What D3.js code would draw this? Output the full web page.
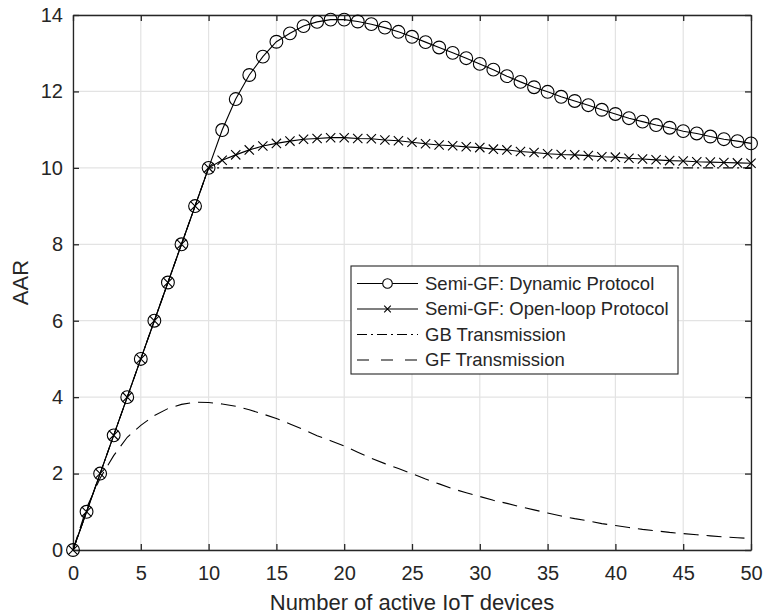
<!DOCTYPE html>
<html>
<head>
    <title>AAR vs active IoT devices</title>
    <script src="https://d3js.org/d3.v7.min.js"></script>
    <style>
        body { margin: 0; background: #fff; }
        text { font-family: "Liberation Sans", Arial, sans-serif; fill: #262626; }
    </style>
</head>
<body>
    <svg width="763" height="615"></svg>

    <script>
        // number of active devices, 0..50
        const devices = d3.range(0, 51);

        const dynamicAAR = [0, 1, 2, 3, 4, 5, 6, 7, 8, 9, 10,
            10.99, 11.80, 12.43, 12.91, 13.30, 13.52, 13.71, 13.82, 13.88, 13.88,
            13.83, 13.76, 13.67, 13.56, 13.43, 13.29, 13.15, 13.01, 12.87, 12.72,
            12.57, 12.40, 12.25, 12.11, 11.99, 11.86, 11.75, 11.64, 11.52, 11.41,
            11.30, 11.21, 11.12, 11.05, 10.96, 10.90, 10.82, 10.75, 10.70, 10.64];

        const openLoopAAR = [0, 1, 2, 3, 4, 5, 6, 7, 8, 9, 10,
            10.20, 10.34, 10.47, 10.57, 10.64, 10.70, 10.75, 10.77, 10.79, 10.79,
            10.77, 10.76, 10.73, 10.71, 10.67, 10.63, 10.60, 10.58, 10.55, 10.53,
            10.49, 10.47, 10.43, 10.40, 10.37, 10.35, 10.34, 10.32, 10.29, 10.28,
            10.25, 10.23, 10.21, 10.19, 10.18, 10.16, 10.15, 10.14, 10.13, 10.12];

        const gbAAR = [0, 1, 2, 3, 4, 5, 6, 7, 8, 9, 10,
            10, 10, 10, 10, 10, 10, 10, 10, 10, 10,
            10, 10, 10, 10, 10, 10, 10, 10, 10, 10,
            10, 10, 10, 10, 10, 10, 10, 10, 10, 10,
            10, 10, 10, 10, 10, 10, 10, 10, 10, 10];

        const gfAAR = [0, 1.10, 1.88, 2.47, 2.95, 3.26, 3.52, 3.70, 3.81, 3.87, 3.86,
            3.82, 3.76, 3.67, 3.56, 3.44, 3.30, 3.15, 2.99, 2.86, 2.72,
            2.56, 2.40, 2.26, 2.13, 2.00, 1.86, 1.73, 1.60, 1.50, 1.40,
            1.30, 1.22, 1.13, 1.05, 0.97, 0.89, 0.82, 0.76, 0.69, 0.64,
            0.59, 0.54, 0.50, 0.46, 0.43, 0.40, 0.37, 0.34, 0.32, 0.30];

        const xTicks = [0, 5, 10, 15, 20, 25, 30, 35, 40, 45, 50];
        const yTicks = [0, 2, 4, 6, 8, 10, 12, 14];

        const seriesNames = ["Semi-GF: Dynamic Protocol", "Semi-GF: Open-loop Protocol",
            "GB Transmission", "GF Transmission"];

        const svg = d3.select("svg");
        const margin = { top: 15, right: 12, bottom: 65, left: 73 };
        const width = +svg.attr("width") - margin.left - margin.right;
        const height = +svg.attr("height") - margin.top - margin.bottom;

        const x = d3.scaleLinear().domain([0, 50]).range([0, width]);
        const y = d3.scaleLinear().domain([0, 14]).range([height, 0]);

        const g = svg.append("g").attr("transform", `translate(${margin.left},${margin.top})`);

        // grid
        g.append("g").selectAll("line").data(xTicks).join("line")
            .attr("x1", d => x(d)).attr("x2", d => x(d))
            .attr("y1", 0).attr("y2", height)
            .attr("stroke", "#e3e3e3").attr("stroke-width", 1.2);
        g.append("g").selectAll("line").data(yTicks).join("line")
            .attr("x1", 0).attr("x2", width)
            .attr("y1", d => y(d)).attr("y2", d => y(d))
            .attr("stroke", "#e3e3e3").attr("stroke-width", 1.2);

        // axes, MATLAB style: ticks inside, box on
        const tickLen = 6;
        g.append("g").attr("transform", `translate(0,${height})`)
            .call(d3.axisBottom(x).tickValues(xTicks).tickSizeInner(-tickLen).tickSizeOuter(0).tickPadding(16));
        g.append("g")
            .call(d3.axisLeft(y).tickValues(yTicks).tickSizeInner(-tickLen).tickSizeOuter(0).tickPadding(10));
        g.append("g")
            .call(d3.axisTop(x).tickValues(xTicks).tickSizeInner(-tickLen).tickSizeOuter(0).tickFormat(""));
        g.append("g").attr("transform", `translate(${width},0)`)
            .call(d3.axisRight(y).tickValues(yTicks).tickSizeInner(-tickLen).tickSizeOuter(0).tickFormat(""));

        g.selectAll(".domain").attr("stroke", "#262626").attr("stroke-width", 1.3);
        g.selectAll(".tick line").attr("stroke", "#262626").attr("stroke-width", 1.3);
        g.selectAll(".tick text").attr("font-size", 20).attr("fill", "#262626")
            .style("font-family", "'Liberation Sans', Arial, sans-serif");

        // axis labels
        svg.append("text")
            .attr("x", margin.left + width / 2).attr("y", 610)
            .attr("text-anchor", "middle").attr("font-size", 22)
            .text("Number of active IoT devices");
        svg.append("text")
            .attr("transform", `translate(28,${margin.top + height / 2}) rotate(-90)`)
            .attr("text-anchor", "middle").attr("font-size", 22)
            .text("AAR");

        const line = vals => d3.line()
            .x((d, i) => x(devices[i]))
            .y(d => y(d))(vals);

        const plot = g.append("g");

        plot.append("path").attr("d", line(gfAAR))
            .attr("fill", "none").attr("stroke", "#000").attr("stroke-width", 1.1)
            .attr("stroke-dasharray", "15,8");
        plot.append("path").attr("d", line(gbAAR))
            .attr("fill", "none").attr("stroke", "#000").attr("stroke-width", 1.1)
            .attr("stroke-dasharray", "10,4,2,4");
        plot.append("path").attr("d", line(openLoopAAR))
            .attr("fill", "none").attr("stroke", "#000").attr("stroke-width", 1.1);
        plot.append("path").attr("d", line(dynamicAAR))
            .attr("fill", "none").attr("stroke", "#000").attr("stroke-width", 1.1);

        const cross = d3.symbol().type(d3.symbolX).size(58);

        plot.append("g").selectAll("path").data(openLoopAAR).join("path")
            .attr("transform", (d, i) => `translate(${x(devices[i])},${y(d)})`)
            .attr("d", cross)
            .attr("fill", "none").attr("stroke", "#000").attr("stroke-width", 1.1);

        plot.append("g").selectAll("circle").data(dynamicAAR).join("circle")
            .attr("cx", (d, i) => x(devices[i])).attr("cy", d => y(d))
            .attr("r", 6.4)
            .attr("fill", "none").attr("stroke", "#000").attr("stroke-width", 1.1);

        // legend
        const lg = svg.append("g").attr("transform", "translate(351,266)");
        lg.append("rect").attr("width", 327).attr("height", 108)
            .attr("fill", "#fff").attr("stroke", "#262626").attr("stroke-width", 1.1);

        const rows = lg.selectAll("g.row").data(seriesNames).join("g")
            .attr("class", "row")
            .attr("transform", (d, i) => `translate(0,${17.5 + i * 25.5})`);

        rows.append("line").attr("x1", 6).attr("x2", 67)
            .attr("stroke", "#000").attr("stroke-width", 1.1)
            .attr("stroke-dasharray", (d, i) => i === 2 ? "10,4,2,4" : i === 3 ? "12,12" : null);
        rows.filter((d, i) => i === 0).append("circle")
            .attr("cx", 36.5).attr("r", 4.8)
            .attr("fill", "#fff").attr("stroke", "#000").attr("stroke-width", 1.1);
        rows.filter((d, i) => i === 1).append("path")
            .attr("transform", "translate(36.5,0)")
            .attr("d", d3.symbol().type(d3.symbolX).size(30))
            .attr("fill", "none").attr("stroke", "#000").attr("stroke-width", 1.1);
        rows.append("text").attr("x", 74).attr("dy", "0.35em")
            .attr("font-size", 18.5).text(d => d);
    </script>
</body>
</html>
